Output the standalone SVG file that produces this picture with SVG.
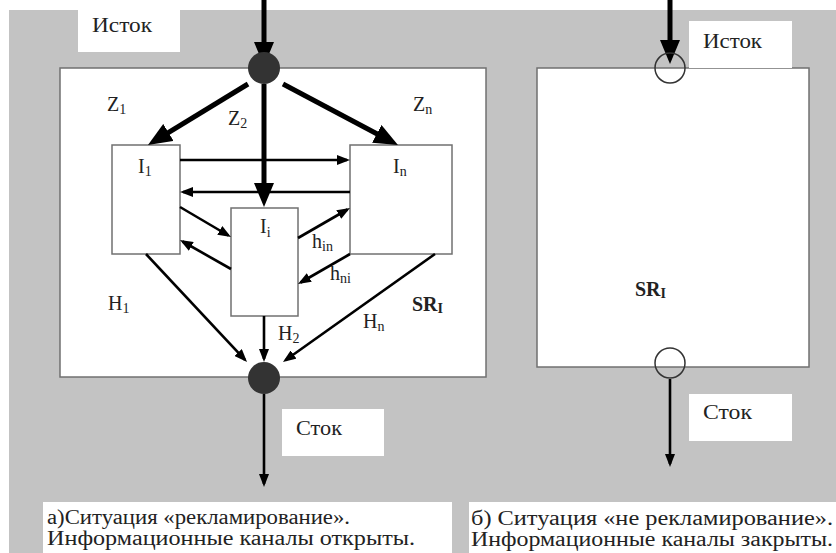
<svg xmlns="http://www.w3.org/2000/svg" width="836" height="553" viewBox="0 0 836 553" font-family="'Liberation Serif', serif">
<defs>
<style>
.t{font-size:20px;fill:#222}
.s{font-size:14px}
.b{font-weight:bold}
.box{fill:#fff;stroke:#707070;stroke-width:1.5}
.lbl{fill:#fff}
.thick{stroke:#000;stroke-width:5;fill:none}
.thin{stroke:#000;stroke-width:2.6;fill:none}
</style>
<marker id="ah" markerUnits="userSpaceOnUse" markerWidth="24" markerHeight="20" viewBox="0 0 24 20" refX="16" refY="10" orient="auto"><path d="M0,0 L24,10 L0,20 z" fill="#000"/></marker>
<marker id="as" markerUnits="userSpaceOnUse" markerWidth="13" markerHeight="10" viewBox="0 0 13 10" refX="10" refY="5" orient="auto"><path d="M0,0 L13,5 L0,10 z" fill="#000"/></marker>
</defs>
<rect x="9" y="10" width="827" height="543" fill="#c3c3c3"/>

<g id="panel-a">
<rect class="box" x="60" y="68" width="426" height="309"/>
</g>
<g id="panel-b">
<rect class="box" x="537" y="68" width="272" height="299"/>
<text class="t b" x="635" y="296">SR<tspan class="s" dy="2">I</tspan></text>
</g>

<g id="src-label-a"><rect class="lbl" x="78" y="10" width="102" height="42"/><text class="t" x="92" y="32" textLength="60" lengthAdjust="spacingAndGlyphs">Исток</text></g>
<g id="src-label-b"><rect class="lbl" x="689" y="21" width="103" height="47"/><text class="t" x="703" y="48" textLength="59" lengthAdjust="spacingAndGlyphs">Исток</text></g>
<g id="sink-label-a"><rect class="lbl" x="282" y="409" width="102" height="47"/><text class="t" x="296" y="435" textLength="46" lengthAdjust="spacingAndGlyphs">Сток</text></g>
<g id="sink-label-b"><rect class="lbl" x="689" y="394" width="103" height="47"/><text class="t" x="703" y="419" textLength="49" lengthAdjust="spacingAndGlyphs">Сток</text></g>

<g id="I1"><rect class="box" x="112" y="145" width="68" height="109"/><text class="t" x="138" y="173">I<tspan class="s" dy="3">1</tspan></text></g>
<g id="In"><rect class="box" x="350" y="145" width="102" height="109"/><text class="t" x="393" y="173">I<tspan class="s" dy="3">n</tspan></text></g>
<g id="Ii"><rect class="box" x="231" y="208" width="67" height="108"/><text class="t" x="260" y="233">I<tspan class="s" dy="4">i</tspan></text></g>

<g id="connectors">
<line class="thick" x1="264" y1="0" x2="264" y2="58" marker-end="url(#ah)"/>
<line class="thick" x1="670" y1="0" x2="670" y2="56" marker-end="url(#ah)"/>
<line class="thick" x1="248" y1="84" x2="154.8" y2="140.8" marker-end="url(#ah)"/>
<line class="thick" x1="283" y1="84" x2="390.9" y2="141.3" marker-end="url(#ah)"/>
<line class="thin" x1="180" y1="160" x2="347" y2="160" marker-end="url(#as)"/>
<line class="thin" x1="350" y1="192" x2="183" y2="192" marker-end="url(#as)"/>
<line class="thick" x1="264" y1="84" x2="264" y2="199" marker-end="url(#ah)"/>
<line class="thin" x1="180" y1="207" x2="228.4" y2="235.5" marker-end="url(#as)"/>
<line class="thin" x1="231" y1="269" x2="182.6" y2="241.5" marker-end="url(#as)"/>
<line class="thin" x1="298" y1="238" x2="347.4" y2="209.5" marker-end="url(#as)"/>
<line class="thin" x1="350" y1="254" x2="300.6" y2="282.5" marker-end="url(#as)"/>
<line class="thin" x1="146" y1="254" x2="245" y2="359.8" marker-end="url(#as)"/>
<line class="thin" x1="264" y1="316" x2="264" y2="359" stroke-width="3.5" marker-end="url(#as)"/>
<line class="thin" x1="435" y1="254" x2="285.4" y2="360.3" marker-end="url(#as)"/>
<line class="thin" x1="264" y1="394" x2="264" y2="484" marker-end="url(#as)"/>
<line class="thin" x1="670" y1="379" x2="670" y2="464" marker-end="url(#as)"/>
</g>

<g id="source-a"><circle cx="264" cy="68" r="16" fill="#333"/></g>
<g id="sink-a"><circle cx="264" cy="378" r="16" fill="#333"/></g>
<g id="source-b"><circle cx="670" cy="68" r="15" fill="none" stroke="#333" stroke-width="1.5"/></g>
<g id="sink-b"><circle cx="670" cy="363" r="15" fill="none" stroke="#333" stroke-width="1.5"/></g>

<g id="labels">
<text class="t" x="107" y="111">Z<tspan class="s" dy="3">1</tspan></text>
<text class="t" x="228" y="125">Z<tspan class="s" dy="3">2</tspan></text>
<text class="t" x="413" y="111">Z<tspan class="s" dy="3">n</tspan></text>
<text class="t" x="312" y="248">h<tspan class="s" dy="3">in</tspan></text>
<text class="t" x="330" y="280">h<tspan class="s" dy="3">ni</tspan></text>
<text class="t" x="108" y="310">H<tspan class="s" dy="3">1</tspan></text>
<text class="t" x="278" y="340">H<tspan class="s" dy="3">2</tspan></text>
<text class="t" x="363" y="328">H<tspan class="s" dy="3">n</tspan></text>
<text class="t b" x="412" y="311">SR<tspan class="s" dy="2">I</tspan></text>
</g>

<g id="caption-a">
<rect class="lbl" x="43" y="502" width="409" height="51"/>
<text class="t" x="47" y="524" textLength="303" lengthAdjust="spacingAndGlyphs">а)Ситуация «рекламирование».</text>
<text class="t" x="47" y="545" textLength="368" lengthAdjust="spacingAndGlyphs">Информационные каналы открыты.</text>
</g>
<g id="caption-b">
<rect class="lbl" x="469" y="502" width="367" height="51"/>
<text class="t" x="471" y="525" textLength="362" lengthAdjust="spacingAndGlyphs">б) Ситуация «не рекламирование».</text>
<text class="t" x="471" y="546" textLength="362" lengthAdjust="spacingAndGlyphs">Информационные каналы закрыты.</text>
</g>
</svg>
